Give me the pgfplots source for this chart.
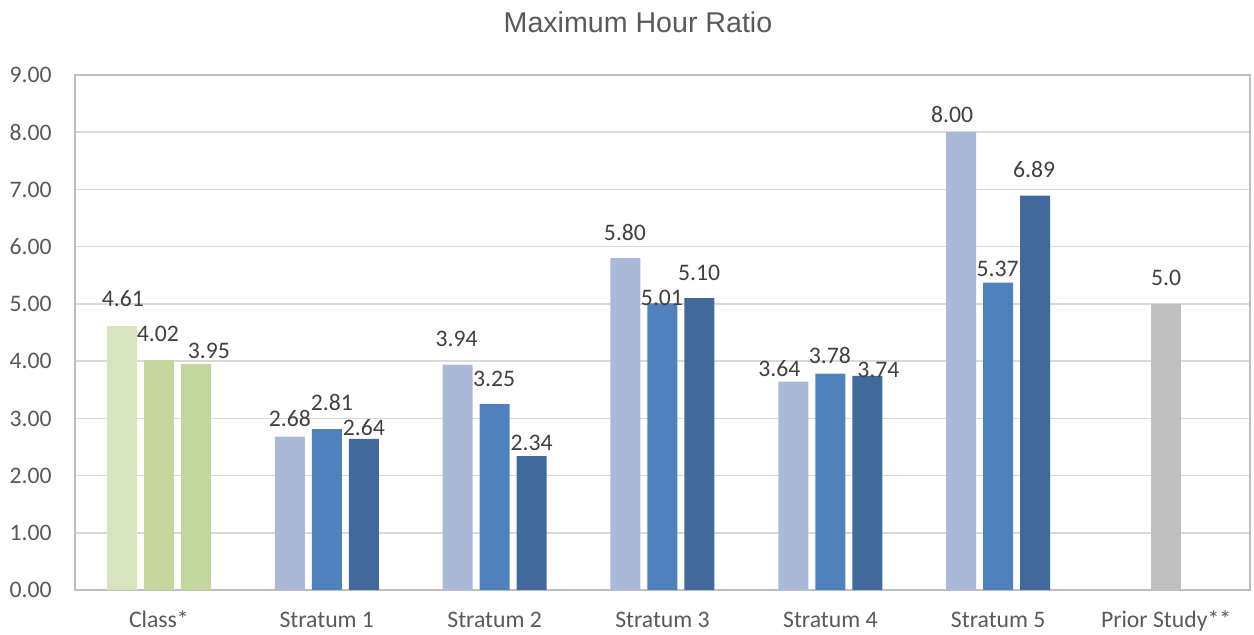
\documentclass[border=0pt]{standalone}
\usepackage{fontspec}
\setmainfont{Carlito}
\newfontfamily\titlefont{Liberation Sans}
\usepackage{pgfplots}
\usepackage{pgfplotstable}
\pgfplotsset{compat=1.18}
\pgfkeys{/pgf/number format/assume math mode=true}
\definecolor{txt}{HTML}{595959}
\definecolor{lbl}{HTML}{404040}
\definecolor{gridc}{HTML}{D9D9D9}
\definecolor{axisc}{HTML}{BFBFBF}
\definecolor{gA}{HTML}{D7E4BD}
\definecolor{gB}{HTML}{C3D69B}
\definecolor{gC}{HTML}{C3D69B}
\definecolor{bA}{HTML}{AAB9D7}
\definecolor{bB}{HTML}{4F81BD}
\definecolor{bC}{HTML}{41699B}
\definecolor{pr}{HTML}{BFBFBF}

% x  y  dx(pt)  dy(pt)
\pgfplotstableread{
x y dx dy
0 4.61 0.5 9.65
}\classA
\pgfplotstableread{
x y dx dy
0 4.02 -0.5 9.15
}\classB
\pgfplotstableread{
x y dx dy
0 3.95 6.5 2.35
}\classC
\pgfplotstableread{
x y dx dy
1 2.68 0 4.65
2 3.94 -0.5 8.85
3 5.80 -0.25 8.5
4 3.64 -7 2.2
5 8.00 -4.5 4.85
}\strA
\pgfplotstableread{
x y dx dy
1 2.81 2.5 9.35
2 3.25 -0.25 8.8
3 5.01 -0.25 -1.2
4 3.78 -0.25 5
5 5.37 -0.25 3
}\strB
\pgfplotstableread{
x y dx dy
1 2.64 0 1.35
2 2.34 0 2.65
3 5.10 -0.2 8.8
4 3.74 5.5 -1.15
5 6.89 -0.5 9.15
}\strC
\pgfplotstableread{
x y dx dy
6 5.0 0 9.15
}\prior

\begin{document}
\begin{tikzpicture}
\begin{axis}[
  at={(0,0)}, anchor=south west,
  scale only axis,
  width=587.5pt, height=257.5pt,
  xmin=-0.5, xmax=6.5,
  ymin=0, ymax=9,
  ytick={0,1,...,9},
  yticklabel={\pgfmathprintnumber[fixed,fixed zerofill,precision=2]{\tick}},
  xtick={0,1,2,3,4,5,6},
  xticklabels={Class*,Stratum 1,Stratum 2,Stratum 3,Stratum 4,Stratum 5,Prior Study**},
  major tick length=0pt,
  xmajorgrids=false,
  ymajorgrids=true,
  major grid style={draw=gridc, line width=0.75pt},
  axis line style={draw=axisc, line width=1pt},
  tick label style={font=\fontsize{11.85pt}{14pt}\selectfont, text=txt},
  xticklabel style={anchor=base, inner sep=0pt, text depth=0pt, yshift=-18.85pt},
  yticklabel style={anchor=east, inner sep=0pt, text depth=0pt, xshift=-11.5pt},
  ybar, bar width=15pt,
  nodes near coords={\pgfmathprintnumber[fixed,fixed zerofill,precision=2]{\pgfplotspointmeta}},
  visualization depends on={\thisrow{dx} \as \ldx},
  visualization depends on={\thisrow{dy} \as \ldy},
  every node near coord/.append style={font=\fontsize{11.85pt}{14pt}\selectfont, text=lbl, anchor=south, inner sep=0pt, text depth=0pt, xshift=\ldx pt, yshift=\ldy pt},
  every axis title shift=0pt,
  title={\titlefont\fontsize{14.3pt}{17pt}\selectfont Maximum Hour Ratio},
  title style={text=txt, at={(0.5,1)}, anchor=base, inner sep=0pt, text depth=0pt, yshift=21.15pt, xshift=-12.25pt},
  clip=false,
]
\addplot[fill=gA, draw=none, bar shift=-18.5pt] table[x=x,y=y] {\classA};
\addplot[fill=gB, draw=none, bar shift=0pt] table[x=x,y=y] {\classB};
\addplot[fill=gC, draw=none, bar shift=18.5pt] table[x=x,y=y] {\classC};
\addplot[fill=bA, draw=none, bar shift=-18.5pt] table[x=x,y=y] {\strA};
\addplot[fill=bB, draw=none, bar shift=0pt] table[x=x,y=y] {\strB};
\addplot[fill=bC, draw=none, bar shift=18.5pt] table[x=x,y=y] {\strC};
\addplot[fill=pr, draw=none, bar shift=0pt,
  nodes near coords={\pgfmathprintnumber[fixed,fixed zerofill,precision=1]{\pgfplotspointmeta}}] table[x=x,y=y] {\prior};
\end{axis}
\pgfresetboundingbox
\useasboundingbox (-37.5pt,-22.5pt) rectangle (589.5pt,295pt);
\end{tikzpicture}
\end{document}
